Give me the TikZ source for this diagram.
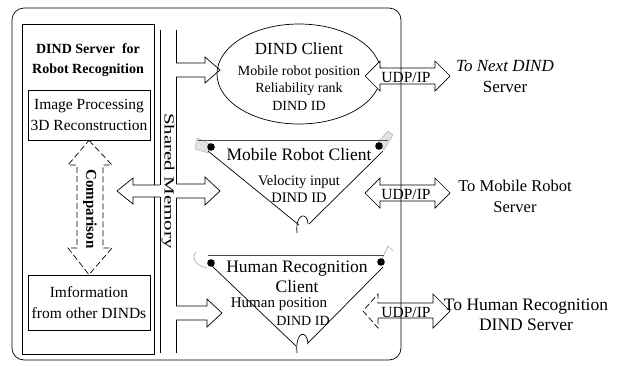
\documentclass[tikz,border=0pt]{standalone}
\usepackage{fontspec}
\setmainfont{Liberation Serif}
\usepackage{graphicx}
\usetikzlibrary{shapes.geometric}
\newcommand{\fsz}[2]{\fontsize{#1}{#2}\selectfont}

\begin{document}
\begin{tikzpicture}[x=1pt,y=-1pt,line width=0.7pt,
  txt/.style={inner sep=0pt,align=center},
  procbox/.style={draw,inner sep=0pt,minimum width=122pt,align=center,
    font=\fsz{15.5}{21}},
  blockarrow/.style={draw,fill=white,line join=miter},
  flap/.style={fill=gray!22,draw=gray!60,line width=0.5pt},
  pin/.style={fill=black},
  dashline/.style={dash pattern=on 6pt off 3pt}]
\useasboundingbox (0,0) rectangle (619,365);

% ---------- server frame ----------
\node[draw,inner sep=0pt,minimum width=132pt,minimum height=330pt] (server) at (88,189) {};
\node[txt,font=\bfseries\fsz{14}{20}] (title) at (88,60) {DIND Server\ \ for\\Robot Recognition};
\node[procbox,minimum height=50pt] (imgproc) at (89,115) {Image Processing\\3D Reconstruction};
\node[procbox,minimum height=55pt] (info) at (89,302.5) {Imformation\\from other DINDs};

% comparison double arrow (dashed)
\draw[dashline] (imgproc.south) -- (112,165) -- (103,165) -- (103,248) -- (112,248)
  -- (info.north) -- (68,248) -- (77,248) -- (77,165) -- (68,165) -- cycle;
\node[txt,rotate=-90,font=\bfseries\fsz{15}{15}] (cmp) at (90,209) {Comparison};

% ---------- shared memory bus ----------
\draw (160,30) -- (160,185) (160,197) -- (160,353);
\draw (176,30) -- (176,63) (176,77) -- (176,184) (176,198) -- (176,306) (176,320) -- (176,353);
\node[txt,rotate=-90,font=\fsz{14}{14}] (shm) at (168,181) {\scalebox{1.5}[1]{Shared Memory}};

% bus <-> server
\draw[blockarrow] (160,185) -- (133,185) -- (133,178) -- (117,191) -- (133,204) -- (133,197) -- (160,197);

% bus -> clients
\draw[blockarrow] (176,63) -- (205,63) -- (205,57) -- (220,70) -- (205,83) -- (205,77) -- (176,77);
\draw[blockarrow] (176,184) -- (205,184) -- (205,177) -- (220,191) -- (205,205) -- (205,198) -- (176,198);
\draw[blockarrow] (176,306) -- (207,306) -- (207,299) -- (222,313) -- (207,327) -- (207,320) -- (176,320);

% ---------- DIND client ----------
\node[draw,ellipse,inner sep=0pt,minimum width=164pt,minimum height=100pt] (client) at (299,74) {};
\node[txt,font=\fsz{17}{17}] (clientname) at (299,49) {DIND Client};
\node[txt,font=\fsz{14}{17.5}] (clientdata) at (299,88) {Mobile robot position\\Reliability rank\\DIND ID};

% ---------- mobile robot client ----------
\draw[flap] (197,138) -- (195,149) -- (208,153) -- (210,144) -- cycle;
\draw[flap] (378,142) -- (388,131) -- (393,135) -- (384,150) -- cycle;
\draw[line width=0.6pt,black!70] (198,140) -- (388,140);
\draw (208,151) -- (299,225);
\draw (383,151) -- (309,224);
\draw (297,233) .. controls (295,212) and (308,212) .. (308,224);
\fill[pin] (211,147) circle (3.8);
\fill[pin] (379,146) circle (3.8);
\node[txt,font=\fsz{17.5}{17.5}] (mrname) at (299,155) {Mobile Robot Client};
\node[txt,font=\fsz{14.5}{17.5}] (mrdata) at (299,189) {Velocity input\\DIND ID};

% ---------- human recognition client ----------
\draw[gray!70,line width=0.6pt] (196,252) .. controls (191,258) and (196,266) .. (207,268);
\draw[gray!70,line width=0.6pt] (382,259) -- (388,246) -- (393,251);
\draw[line width=0.6pt,black!70] (208,255) -- (384,255);
\draw (212,266) -- (296,346);
\draw (383,267) -- (307,344);
\draw (297,353) .. controls (295,330) and (307,330) .. (308,343);
\fill[pin] (211,263) circle (3.8);
\fill[pin] (381,262) circle (3.8);
\node[txt,font=\fsz{17.5}{20}] (hrname) at (297,277) {Human Recognition\\Client};
\node[txt,font=\fsz{15}{15}] (hrpos) at (279,304) {Human position};
\node[txt,font=\fsz{14}{14}] (hrid) at (303,321) {DIND ID};

% ---------- UDP/IP links ----------
\draw[blockarrow] (365,76) -- (380,61) -- (380,68) -- (435,68) -- (435,61) -- (450,76)
  -- (435,91) -- (435,84) -- (380,84) -- (380,91) -- cycle;
\node[txt,font=\fsz{15.5}{15.5}] (udp1) at (406,77) {UDP/IP};
\draw[blockarrow] (365,193) -- (380,178) -- (380,185) -- (435,185) -- (435,178) -- (450,193)
  -- (435,208) -- (435,201) -- (380,201) -- (380,208) -- cycle;
\node[txt,font=\fsz{15.5}{15.5}] (udp2) at (406,194) {UDP/IP};
\fill[white] (363,311) -- (378,294) -- (378,303) -- (433,303) -- (433,294) -- (450,311)
  -- (433,328) -- (433,318) -- (378,318) -- (378,328) -- cycle;
\draw[line join=miter] (378,303) -- (433,303) -- (433,294) -- (450,311) -- (433,328) -- (433,318) -- (378,318);
\draw[dashline] (378,318) -- (378,328) -- (363,311) -- (378,294) -- (378,303);
\node[txt,font=\fsz{15.5}{15.5}] (udp3) at (406,312) {UDP/IP};

% client frame
\draw[rounded corners=12pt] (12,8) rectangle (401,360);

% ---------- remote servers ----------
\node[txt,font=\fsz{17}{21}] (next) at (505,77) {\textit{To Next DIND}\\Server};
\node[txt,font=\fsz{16.5}{21}] (mobile) at (515,196) {To Mobile Robot\\Server};
\node[txt,font=\fsz{17.5}{20}] (human) at (526,315) {To Human Recognition\\DIND Server};
\end{tikzpicture}
\end{document}
